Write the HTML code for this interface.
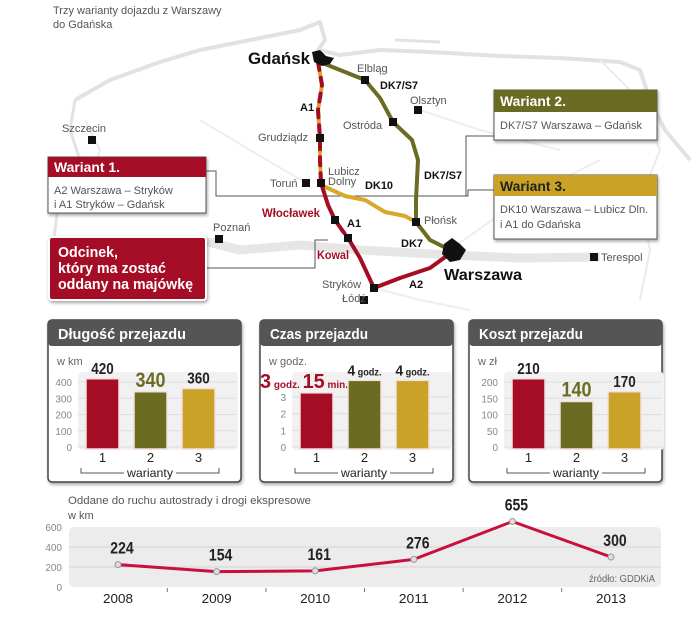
<!DOCTYPE html>
<html><head><meta charset="utf-8">
<style>
html,body{margin:0;padding:0;background:#fff;}
svg{display:block;font-family:"Liberation Sans Narrow","Liberation Sans",sans-serif;}
.lt{fill:#555;font-size:11px;}
.b{font-weight:bold;}
</style></head>
<body>
<svg id="root" width="697" height="640" viewBox="0 0 697 640">
<defs>
<filter id="sh" x="-10%" y="-10%" width="130%" height="130%"><feDropShadow dx="1" dy="2" stdDeviation="1.5" flood-color="#000" flood-opacity="0.35"/></filter>
</defs>
<g fill="none" stroke="#e2e2e2" stroke-width="4" stroke-linejoin="round">
<path d="M75,100 L110,80 L160,62 L200,50 L250,40 L300,30 L320,22 L325,40 L318,50 L340,55 L380,50 L430,52 L500,56 L560,58 L620,62 L640,70 L650,100 L665,130 L690,160"/>
<path d="M75,100 L70,130 L80,160 L60,190 L55,230 L50,260" stroke-width="3"/>
<path d="M395,40 L440,42" stroke-width="3"/>
<path d="M85,120 L100,150 L90,180 L110,210" stroke="#ebebeb" stroke-width="2"/>
<path d="M600,60 L640,100 L660,150 L640,200 L650,250 L640,300" stroke="#ebebeb" stroke-width="2"/>
<path d="M200,240 L240,250 L300,245 L360,250 L450,255 L520,258 L600,257" stroke="#e6e6e6" stroke-width="9"/>
<path d="M80,260 L150,250 L220,240" stroke="#e6e6e6" stroke-width="6"/>
<path d="M200,120 L250,150 L306,183" stroke="#eee" stroke-width="2"/>
<path d="M420,110 L480,130 L560,150" stroke="#eee" stroke-width="2"/>
<path d="M450,250 L520,200 L600,160" stroke="#eee" stroke-width="2"/>
<path d="M374,288 L420,300 L470,310" stroke="#eee" stroke-width="2"/>
</g>
<text x="53" y="14" class="lt">Trzy warianty dojazdu z Warszawy</text>
<text x="53" y="28" class="lt">do Gdańska</text>

<g fill="none" stroke="#555" stroke-width="1">
<path d="M494,136 L466,136 L466,196 L418,196"/>
<path d="M206,171 L216,171 L216,196 L468,196 L468,190 L494,190"/>
<path d="M206,268 L315,268 L315,240 L328,240"/>
</g>

<g fill="none" stroke-linecap="round" stroke-linejoin="round">
<path d="M325,64 L365,80 L380,98 L393,122 L412,140 L418,160 L416,200 L416,222 L430,240 L450,250" stroke="#6b6b22" stroke-width="4"/>
<path d="M321,185 L345,196 L365,200 L385,212 L405,216 L416,222" stroke="#d7a92a" stroke-width="4"/>
<path d="M318,62 L322,85 L318,110 L320,138 L320,160 L321,183" stroke="#d7a92a" stroke-width="4"/>
<path d="M318,62 L322,85 L318,110 L320,138 L320,160 L321,183" stroke="#a50d25" stroke-width="4" stroke-dasharray="8 8"/>
<path d="M321,183 L328,205 L335,220 L342,230" stroke="#a50d25" stroke-width="4"/>
<path d="M342,230 L348,238" stroke="#a50d25" stroke-width="4" stroke-dasharray="4 3"/>
<path d="M348,238 L360,258 L374,288" stroke="#a50d25" stroke-width="4"/>
<path d="M374,288 L400,278 L430,268 L448,255" stroke="#a50d25" stroke-width="4"/>
</g>
<g fill="#111">
<rect x="361" y="76" width="8" height="8"/><rect x="414" y="106" width="8" height="8"/>
<rect x="389" y="118" width="8" height="8"/><rect x="316" y="134" width="8" height="8"/>
<rect x="88" y="136" width="8" height="8"/><rect x="302" y="179" width="8" height="8"/>
<rect x="317" y="179" width="8" height="8"/><rect x="215" y="235" width="8" height="8"/>
<rect x="331" y="216" width="8" height="8"/><rect x="344" y="234" width="8" height="8"/>
<rect x="412" y="218" width="8" height="8"/><rect x="590" y="253" width="8" height="8"/>
<rect x="370" y="284" width="8" height="8"/><rect x="360" y="296" width="8" height="8"/>
<path d="M312,52 L320,50 L326,56 L334,58 L330,64 L322,66 L314,62 Z"/>
<path d="M444,244 L452,238 L460,244 L466,250 L460,260 L450,262 L442,254 Z"/>
</g>
<g>
<text x="248" y="64" font-size="17" class="b" fill="#111" textLength="62" lengthAdjust="spacingAndGlyphs">Gdańsk</text>
<text x="357" y="72" class="lt">Elbląg</text>
<text x="380" y="89" font-size="11" class="b" fill="#111" textLength="38" lengthAdjust="spacingAndGlyphs">DK7/S7</text>
<text x="410" y="104" class="lt">Olsztyn</text>
<text x="343" y="129" class="lt">Ostróda</text>
<text x="300" y="111" font-size="11" class="b" fill="#111">A1</text>
<text x="258" y="141" class="lt">Grudziądz</text>
<text x="62" y="132" class="lt">Szczecin</text>
<text x="270" y="187" class="lt">Toruń</text>
<text x="328" y="175" class="lt">Lubicz</text>
<text x="328" y="185" class="lt">Dolny</text>
<text x="365" y="189" font-size="11" class="b" fill="#111" textLength="28" lengthAdjust="spacingAndGlyphs">DK10</text>
<text x="424" y="179" font-size="11" class="b" fill="#111" textLength="38" lengthAdjust="spacingAndGlyphs">DK7/S7</text>
<text x="213" y="231" class="lt">Poznań</text>
<text x="262" y="217" font-size="12" class="b" fill="#a50d25" textLength="58" lengthAdjust="spacingAndGlyphs">Włocławek</text>
<text x="347" y="227" font-size="11" class="b" fill="#111">A1</text>
<text x="317" y="259" font-size="12" class="b" fill="#a50d25" textLength="32" lengthAdjust="spacingAndGlyphs">Kowal</text>
<text x="424" y="224" class="lt">Płońsk</text>
<text x="401" y="247" font-size="11" class="b" fill="#111">DK7</text>
<text x="444" y="280" font-size="16" class="b" fill="#111" textLength="78" lengthAdjust="spacingAndGlyphs">Warszawa</text>
<text x="601" y="261" class="lt">Terespol</text>
<text x="322" y="288" class="lt">Stryków</text>
<text x="342" y="302" class="lt">Łódź</text>
<text x="409" y="288" font-size="11" class="b" fill="#111">A2</text>
</g>
<g filter="url(#sh)">
<rect x="494" y="90" width="163" height="50" fill="#fff" stroke="#555"/>
<rect x="494" y="90" width="163" height="22" fill="#6b6b22"/>
</g>
<text x="500" y="106" font-size="14" class="b" fill="#fff" textLength="66" lengthAdjust="spacingAndGlyphs">Wariant 2.</text>
<text x="500" y="129" class="lt">DK7/S7 Warszawa – Gdańsk</text>
<g filter="url(#sh)">
<rect x="494" y="175" width="163" height="64" fill="#fff" stroke="#555"/>
<rect x="494" y="175" width="163" height="21" fill="#c9a227"/>
</g>
<text x="500" y="191" font-size="14" class="b" fill="#222" textLength="66" lengthAdjust="spacingAndGlyphs">Wariant 3.</text>
<text x="500" y="213" class="lt">DK10 Warszawa – Lubicz Dln.</text>
<text x="500" y="228" class="lt">i A1 do Gdańska</text>
<g filter="url(#sh)">
<rect x="48" y="157" width="158" height="56" fill="#fff" stroke="#555"/>
<rect x="48" y="157" width="158" height="20" fill="#a50d25"/>
</g>
<text x="54" y="172" font-size="14" class="b" fill="#fff" textLength="66" lengthAdjust="spacingAndGlyphs">Wariant 1.</text>
<text x="54" y="194" class="lt">A2 Warszawa – Stryków</text>
<text x="54" y="208" class="lt">i A1 Stryków – Gdańsk</text>
<g filter="url(#sh)">
<rect x="49" y="237" width="157" height="63" rx="3" fill="#a50d25" stroke="#fff" stroke-width="2"/>
</g>
<text x="58" y="257" font-size="15" class="b" fill="#fff" textLength="60" lengthAdjust="spacingAndGlyphs">Odcinek,</text>
<text x="58" y="273" font-size="15" class="b" fill="#fff" textLength="108" lengthAdjust="spacingAndGlyphs">który ma zostać</text>
<text x="58" y="289" font-size="15" class="b" fill="#fff" textLength="135" lengthAdjust="spacingAndGlyphs">oddany na majówkę</text>

<g id="panels"></g>
<g id="linechart"></g>
</svg>
<script>
var NS='http://www.w3.org/2000/svg';
var variants=['1','2','3'];
var lengthKm=[420,340,360];
var lengthTicks=[0,100,200,300,400];
var timeHours=[3.25,4,4];
var timeTicks=[0,1,2,3];
var costZl=[210,140,170];
var costTicks=[0,50,100,150,200];
var years=['2008','2009','2010','2011','2012','2013'];
var openedKm=[224,154,161,276,655,300];
var lineTicks=[0,200,400,600];

var barColors=['#a50d25','#6b6b22','#c9a227'];
function mk(tag,attrs,parent,txt){var e=document.createElementNS(NS,tag);for(var k in attrs)e.setAttribute(k,attrs[k]);if(txt!==undefined)e.textContent=txt;parent.appendChild(e);return e;}
var panels=document.getElementById('panels');

function panel(px,title,unit,vals,ticks,tickMax,plotOff,labelFn,name,titleLen){
  var g=mk('g',{},panels);
  
  
  var box=mk('g',{filter:'url(#sh)'},g);
  mk('rect',{x:px,y:320,width:193,height:162,rx:4,fill:'#fff',stroke:'#444','stroke-width':1.5},box);
  mk('rect',{x:px,y:320,width:193,height:26,rx:4,fill:'#555'},box);
  var t=mk('text',{x:px+10,y:339,'font-size':15,'font-weight':'bold',fill:'#fff',textLength:titleLen,lengthAdjust:'spacingAndGlyphs'},g,title);
  
  
  mk('text',{x:px+9,y:365,'font-size':11,fill:'#666'},g,unit);
  var base=447,h=65;
  function y(v){return base-v*h/tickMax;}
  mk('rect',{x:px+plotOff-8,y:372,width:160,height:78,fill:'#f1f1f1',rx:4},g);
  ticks.forEach(function(tv){
    mk('line',{x1:px+plotOff-8,x2:px+plotOff+150,y1:y(tv),y2:y(tv),stroke:'#ddd','stroke-width':1},g);
    var tl=mk('text',{x:px+plotOff-14,y:y(tv)+4,'font-size':10,fill:'#888','text-anchor':'end'},g,String(tv));
    
    
  });
  vals.forEach(function(v,i){
    var bx=px+plotOff+i*48;
    var r=mk('rect',{x:bx,y:y(v),width:33,height:base-y(v)+2,fill:barColors[i],stroke:'#f6e0e0','stroke-width':1.5},g);
    
    
    labelFn(g,bx,y(v),v,i);
    var c=mk('text',{x:bx+16.5,y:462,'font-size':13,fill:'#222','text-anchor':'middle'},g,variants[i]);
    
    
  });
  var l=px+plotOff-5,r2=px+plotOff+133,mid=(l+r2)/2;
  mk('path',{d:'M'+l+',468 L'+l+',473 L'+(mid-26)+',473 M'+(mid+26)+',473 L'+r2+',473 L'+r2+',468',fill:'none',stroke:'#555'},g);
  var xt=mk('text',{x:mid,y:477,'font-size':12,fill:'#222','text-anchor':'middle',textLength:46,lengthAdjust:'spacingAndGlyphs'},g,'warianty');
  
  
}
function numLabel(g,bx,yy,v,i){
  var big=(i===1);
  var s=String(v);
  var t=mk('text',{x:bx+16.5,y:yy-5,'font-size':big?21:16,'font-weight':'bold',fill:big?'#6b6b22':'#222','text-anchor':'middle',textLength:s.length*(big?10:7.5),lengthAdjust:'spacingAndGlyphs'},g,s);
  
  
}
panel(48,'Długość przejazdu','w km',lengthKm,lengthTicks,400,38,numLabel,'panel-dlugosc',128);
panel(260,'Czas przejazdu','w godz.',timeHours,timeTicks,3.9,40,function(g,bx,yy,v,i){
  var hrs=Math.floor(v),mins=Math.round((v-hrs)*60);
  if(i===0){
    var t=mk('text',{x:bx-40,y:yy-5,'font-weight':'bold',fill:'#a50d25',textLength:88,lengthAdjust:'spacingAndGlyphs'},g);
    
    
    mk('tspan',{'font-size':20},t,String(hrs));
    mk('tspan',{'font-size':10},t,' godz. ');
    mk('tspan',{'font-size':20},t,String(mins));
    mk('tspan',{'font-size':10},t,' min.');
  } else {
    var t2=mk('text',{x:bx+16.5,y:yy-5,'font-weight':'bold',fill:'#222','text-anchor':'middle',textLength:34,lengthAdjust:'spacingAndGlyphs'},g);
    
    
    mk('tspan',{'font-size':15},t2,String(hrs));
    mk('tspan',{'font-size':10},t2,' godz.');
  }
},'panel-czas',98);
panel(469,'Koszt przejazdu','w zł',costZl,costTicks,200,43,numLabel,'panel-koszt',104);

var lc=document.getElementById('linechart');


mk('text',{x:68,y:504,'font-size':11,fill:'#555',textLength:243,lengthAdjust:'spacingAndGlyphs'},lc,'Oddane do ruchu autostrady i drogi ekspresowe');
mk('text',{x:68,y:519,'font-size':11,fill:'#555'},lc,'w km');
function ly(v){return 587-v*60/600;}
function lx(i){return 118+i*98.6;}
mk('rect',{x:69,y:527,width:592,height:60,rx:5,fill:'#ececec'},lc);
lineTicks.forEach(function(tv){
  if(tv>0&&tv<600) mk('line',{x1:69,x2:661,y1:ly(tv),y2:ly(tv),stroke:'#d4d4d4'},lc);
  var t=mk('text',{x:62,y:ly(tv)+4,'font-size':10,fill:'#888','text-anchor':'end'},lc,String(tv));
  
  
});
var pts=openedKm.map(function(v,i){return lx(i)+','+ly(v);}).join(' ');
var pl=mk('polyline',{points:pts,fill:'none',stroke:'#c8103e','stroke-width':3,'stroke-linejoin':'round'},lc);


openedKm.forEach(function(v,i){
  var c=mk('circle',{cx:lx(i),cy:ly(v),r:3,fill:'#ddd',stroke:'#999'},lc);
  
  
  var s=String(v);
  var t=mk('text',{x:lx(i)+4,y:ly(v)-11,'font-size':17,'font-weight':'bold',fill:'#222','text-anchor':'middle',textLength:s.length*7.8,lengthAdjust:'spacingAndGlyphs'},lc,s);
  
  
  var yl=mk('text',{x:lx(i),y:603,'font-size':13,fill:'#222','text-anchor':'middle',textLength:30,lengthAdjust:'spacingAndGlyphs'},lc,years[i]);
  
  
  if(i>0) mk('line',{x1:lx(i)-49.3,x2:lx(i)-49.3,y1:588,y2:592,stroke:'#777'},lc);
});
var src=mk('text',{x:655,y:582,'font-size':10,fill:'#666','text-anchor':'end',textLength:66,lengthAdjust:'spacingAndGlyphs'},lc,'źródło: GDDKiA');


</script>
</body></html>
